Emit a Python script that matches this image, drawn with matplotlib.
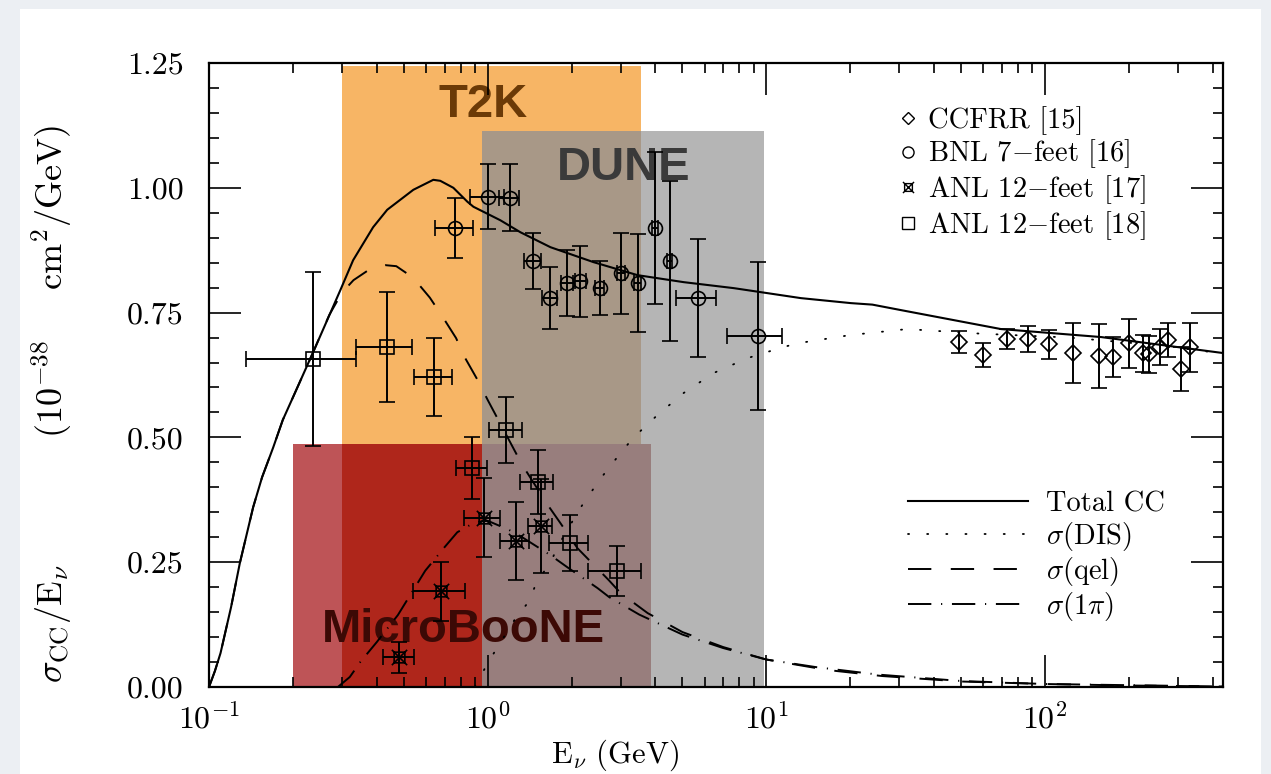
import numpy as np
import matplotlib
matplotlib.use("Agg")
import matplotlib.pyplot as plt
from matplotlib.path import Path
from matplotlib.lines import Line2D
from matplotlib.patches import Rectangle
from matplotlib.ticker import MultipleLocator, LogLocator, NullFormatter

plt.rcParams['font.family'] = ['cmr10', 'DejaVu Serif']
plt.rcParams['mathtext.fontset'] = 'cm'
plt.rcParams['axes.unicode_minus'] = False
plt.rcParams['axes.formatter.use_mathtext'] = True

# ---------------- data ----------------
# Theory curves
tot_E = [0.1, 0.105, 0.11, 0.12, 0.129, 0.144, 0.155, 0.17, 0.184, 0.2, 0.237, 0.296, 0.329, 0.388,
         0.436, 0.541, 0.638, 0.676, 0.753, 0.846, 0.889, 1.11, 1.31, 1.68, 2.40, 3.45, 5.05, 7.64,
         13.3, 20.1, 24.0, 30.4, 69.5, 159, 435]
tot_s = [0.0, 0.032, 0.068, 0.16, 0.248, 0.36, 0.42, 0.48, 0.535, 0.58, 0.672, 0.795, 0.855, 0.921,
         0.956, 0.996, 1.016, 1.014, 1.0, 0.972, 0.962, 0.935, 0.911, 0.881, 0.851, 0.825, 0.811, 0.799,
         0.779, 0.769, 0.766, 0.755, 0.717, 0.701, 0.669]

dis_E = [0.9, 1.0, 1.08, 1.26, 1.40, 1.5, 1.68, 1.82, 2.14, 2.52, 3.02, 3.34, 4.07, 5.05, 6.47,
         8.58, 11.5, 13.1, 20, 32, 58, 122, 250, 435]
dis_s = [0.0, 0.048, 0.078, 0.138, 0.17, 0.21, 0.25, 0.29, 0.357, 0.415, 0.471, 0.5, 0.545, 0.589,
         0.629, 0.659, 0.681, 0.689, 0.705, 0.717, 0.708, 0.700, 0.685, 0.668]

qel_E = [0.1, 0.105, 0.11, 0.12, 0.129, 0.144, 0.155, 0.17, 0.184, 0.2, 0.237, 0.27, 0.3, 0.33,
         0.38, 0.43, 0.47, 0.54, 0.62, 0.69, 0.77, 0.83, 0.92, 1.0, 1.33, 1.65, 1.82, 2.1, 2.72,
         3.0, 3.75, 5, 7, 10, 16.6, 26, 50, 100, 200, 435]
qel_s = [0.0, 0.032, 0.068, 0.16, 0.248, 0.36, 0.42, 0.48, 0.535, 0.58, 0.672, 0.745, 0.79, 0.815,
         0.838, 0.845, 0.843, 0.82, 0.78, 0.741, 0.699, 0.659, 0.615, 0.575, 0.445, 0.363, 0.329,
         0.278, 0.214, 0.188, 0.148, 0.11, 0.08, 0.055, 0.034, 0.022, 0.011, 0.006, 0.003, 0.001]

pi_E = [0.29, 0.32, 0.349, 0.40, 0.476, 0.597, 0.70, 0.778, 0.9, 1.0, 1.19, 1.33, 1.68, 1.93,
        2.48, 2.73, 3.5, 5, 7, 10, 15, 25, 50, 100, 435]
pi_s = [0.0, 0.02, 0.05, 0.09, 0.144, 0.233, 0.28, 0.31, 0.33, 0.333, 0.315, 0.30, 0.264, 0.24,
        0.198, 0.18, 0.145, 0.105, 0.078, 0.055, 0.04, 0.025, 0.012, 0.006, 0.001]

# CCFRR [15]
ccfrr_E = [49, 60, 73, 87, 103.5, 126, 156, 176, 200, 225, 237, 259, 277, 308, 332]
ccfrr_s = [0.691, 0.665, 0.697, 0.697, 0.687, 0.669, 0.663, 0.661, 0.689, 0.669, 0.667, 0.681,
           0.695, 0.637, 0.681]
ccfrr_ds = [0.022, 0.024, 0.020, 0.026, 0.029, 0.060, 0.065, 0.041, 0.049, 0.037, 0.037, 0.036,
            0.034, 0.044, 0.049]

# BNL 7-feet [16]
bnl_E = [0.765, 1.006, 1.20, 1.45, 1.67, 1.93, 2.15, 2.52, 3.0, 3.45, 4.0, 4.5, 5.67, 9.3]
bnl_s = [0.919, 0.982, 0.980, 0.853, 0.779, 0.809, 0.813, 0.799, 0.829, 0.809, 0.919, 0.853,
         0.779, 0.703]
bnl_ds = [0.060, 0.065, 0.067, 0.056, 0.062, 0.066, 0.071, 0.054, 0.081, 0.098, 0.152, 0.160,
          0.118, 0.148]
bnl_dE = [0.118, 0.14, 0.10, 0.10, 0.10, 0.10, 0.10, 0.10, 0.10, 0.10, 0.10, 0.10, 0.92, 2.1]

# ANL 12-feet [17]
anl17_E = [0.482, 0.682, 0.966, 1.26, 1.55]
anl17_s = [0.060, 0.192, 0.339, 0.293, 0.322]
anl17_ds = [0.031, 0.059, 0.079, 0.078, 0.094]
anl17_dE = [0.06, 0.144, 0.145, 0.15, 0.155]

# ANL 12-feet [18]
anl18_E = [0.236, 0.436, 0.643, 0.881, 1.167, 1.51, 1.98, 2.92]
anl18_s = [0.657, 0.681, 0.621, 0.439, 0.515, 0.411, 0.289, 0.233]
anl18_ds = [0.175, 0.11, 0.078, 0.062, 0.066, 0.064, 0.056, 0.050]
anl18_dE = [0.10, 0.10, 0.10, 0.11, 0.16, 0.20, 0.32, 0.62]

# Experiment energy ranges (highlight boxes) and label anchors
exp_names = ['T2K', 'DUNE', 'MicroBooNE']
exp_Emin = [0.3, 0.955, 0.2]
exp_Emax = [3.54, 9.8, 3.85]
exp_top = [1.244, 1.114, 0.487]
exp_labE = [0.965, 3.07, 0.82]
exp_labS = [1.166, 1.04, 0.114]

# ---------------- figure ----------------
W, H = 1271, 774
fig = plt.figure(figsize=(W / 100, H / 100), dpi=100)
fig.patch.set_facecolor('#ECEFF3')
fig.patches.append(Rectangle((20 / W, 0), (1261 - 20) / W, 1 - 9 / H, transform=fig.transFigure,
                             facecolor='white', edgecolor='none', zorder=-10))

ax = fig.add_axes([209 / W, 1 - 687 / H, (1223 - 209) / W, (687 - 63) / H])
ax.set_zorder(1)
ax.set_facecolor('none')
ax.set_xscale('log')
ax.set_xlim(0.1, 435)
ax.set_ylim(0, 1.25)

# boxes
c_or, c_gr, c_og = '#F7B565', '#B5B5B5', '#A89887'
c_red, c_ro, c_rg = '#BE5457', '#AF261B', '#987E7D'
t2k, dune, mb = 0, 1, 2


def box(x0, x1, y1, color, z):
    ax.fill_between([x0, x1], [0, 0], [y1, y1], color=color, lw=0, zorder=z)


box(exp_Emin[t2k], exp_Emax[t2k], exp_top[t2k], c_or, 0.3)
box(exp_Emin[dune], exp_Emax[dune], exp_top[dune], c_gr, 0.31)
box(max(exp_Emin[t2k], exp_Emin[dune]), min(exp_Emax[t2k], exp_Emax[dune]),
    min(exp_top[t2k], exp_top[dune]), c_og, 0.32)
box(exp_Emin[mb], exp_Emax[mb], exp_top[mb], c_red, 0.33)
box(max(exp_Emin[mb], exp_Emin[t2k]), min(exp_Emax[mb], exp_Emax[t2k]), exp_top[mb], c_ro, 0.34)
box(max(exp_Emin[mb], exp_Emin[dune]), min(exp_Emax[mb], exp_Emax[dune]), exp_top[mb], c_rg, 0.35)

tkw = dict(fontsize=34, fontweight='bold', family='Liberation Sans', ha='center', va='center', zorder=0.5)
lab_colors = ['#6B3A07', '#3A3A3A', '#3C0905']
for i in range(3):
    ax.text(exp_labE[i], exp_labS[i], exp_names[i], color=lab_colors[i], **tkw)

# curves
ax.plot(tot_E, tot_s, color='black', lw=1.5, zorder=2, label='Total CC')
ax.plot(dis_E, dis_s, color='black', lw=1.3, ls=(0, (0.6, 10)), dash_capstyle='round', zorder=2,
        label=r'$\sigma(\mathrm{DIS})$')
ax.plot(qel_E, qel_s, color='black', lw=1.4, ls=(0, (12, 10)), zorder=2, label=r'$\sigma(\mathrm{qel})$')
ax.plot(pi_E, pi_s, color='black', lw=1.4, ls=(0, (12, 5, 0.6, 5)), zorder=2, label=r'$\sigma(1\pi)$')

# custom marker: square with X
sq = 0.7
verts = [(-sq, -sq), (sq, -sq), (sq, sq), (-sq, sq), (-sq, -sq),
         (-1, -1), (1, 1), (-1, 1), (1, -1)]
codes = [Path.MOVETO, Path.LINETO, Path.LINETO, Path.LINETO, Path.CLOSEPOLY,
         Path.MOVETO, Path.LINETO, Path.MOVETO, Path.LINETO]
sqx = Path(verts, codes)

ekw = dict(color='black', ecolor='black', elinewidth=1.4, capsize=5.5, capthick=1.4, ls='none',
           mfc='none', mec='black', mew=1.2, zorder=3)
ax.errorbar(ccfrr_E, ccfrr_s, yerr=ccfrr_ds, marker='D', ms=8, **ekw)
ax.errorbar(bnl_E, bnl_s, yerr=bnl_ds, xerr=bnl_dE, marker='o', ms=10, **ekw)
ax.errorbar(anl17_E, anl17_s, yerr=anl17_ds, xerr=anl17_dE, marker=sqx, ms=11, **ekw)
ax.errorbar(anl18_E, anl18_s, yerr=anl18_ds, xerr=anl18_dE, marker='s', ms=9.5, **ekw)

# ticks
ax.yaxis.set_major_locator(MultipleLocator(0.25))
ax.yaxis.set_minor_locator(MultipleLocator(0.05))
ax.yaxis.set_major_formatter(matplotlib.ticker.FormatStrFormatter('%.2f'))
ax.xaxis.set_major_locator(LogLocator(base=10, numticks=10))
ax.xaxis.set_minor_locator(LogLocator(base=10, subs=np.arange(2, 10), numticks=20))
ax.xaxis.set_minor_formatter(NullFormatter())
ax.tick_params(which='both', direction='in', top=True, right=True, width=1.2, colors='black')
ax.tick_params(which='major', length=23)
ax.tick_params(which='minor', length=7)
ax.tick_params(axis='y', which='major', labelsize=23, pad=18)
ax.tick_params(axis='x', which='major', labelsize=23, pad=11)
for s in ax.spines.values():
    s.set_linewidth(1.6)
    s.set_zorder(4)

# legends
mk = [Line2D([], [], ls='none', marker='D', ms=6, mfc='none', mec='black', mew=1.0),
      Line2D([], [], ls='none', marker='o', ms=8, mfc='none', mec='black', mew=1.0),
      Line2D([], [], ls='none', marker=sqx, ms=8, mfc='none', mec='black', mew=1.0),
      Line2D([], [], ls='none', marker='s', ms=8, mfc='none', mec='black', mew=1.0)]
lab1 = ['CCFRR [15]', 'BNL 7$-$feet [16]', 'ANL 12$-$feet [17]', 'ANL 12$-$feet [18]']
leg1 = ax.legend(mk, lab1, loc='upper left', bbox_to_anchor=(897 / W, 1 - 106 / H),
                 bbox_transform=fig.transFigure, frameon=False, fontsize=20.5, handlelength=0.8,
                 handletextpad=0.3, labelspacing=0.1, borderpad=0, borderaxespad=0)
ax.add_artist(leg1)
handles, labels = ax.get_legend_handles_labels()
leg2 = ax.legend(handles[:4], labels[:4], loc='upper left', bbox_to_anchor=(908 / W, 1 - 491 / H),
                 bbox_transform=fig.transFigure, frameon=False, fontsize=20.5, handlelength=4.2,
                 handletextpad=0.65, labelspacing=0.08, borderpad=0, borderaxespad=0)

fig.text(52 / W, 1 - 404 / H,
         r'$\sigma_{\rm CC}/{\rm E}_\nu\quad\quad\quad\quad(10^{-38}\quad\;\;{\rm cm}^2/{\rm GeV})$',
         rotation=90, fontsize=26, ha='center', va='center')
fig.text(615 / W, 1 - 755 / H, r'${\rm E}_\nu$ (GeV)', fontsize=22, ha='center', va='center')

fig.savefig('out.png', dpi=100, facecolor=fig.get_facecolor())
